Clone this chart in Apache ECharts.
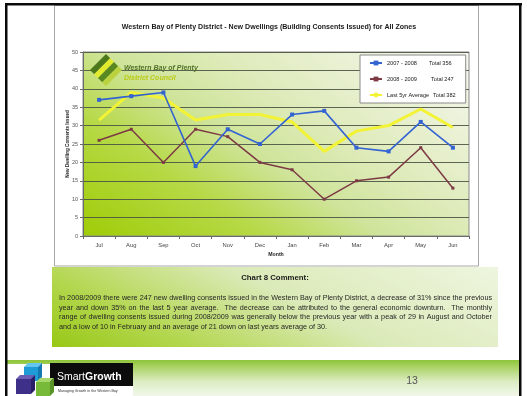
<!DOCTYPE html>
<html>
<head>
<meta charset="utf-8">
<script src="https://cdn.jsdelivr.net/npm/echarts@6/dist/echarts.min.js"></script>
<style>
  html, body { margin: 0; padding: 0; background: #ffffff; }
  #c { width: 527px; height: 396px; }
</style>
</head>
<body>
<div id="c"></div>
<script>
// Monthly new dwelling consents, July to June
const months = ['Jul', 'Aug', 'Sep', 'Oct', 'Nov', 'Dec', 'Jan', 'Feb', 'Mar', 'Apr', 'May', 'Jun'];
const consents2007 = [37, 38, 39, 19, 29, 25, 33, 34, 24, 23, 31, 24];
const consents2008 = [26, 29, 20, 29, 27, 20, 18, 10, 15, 16, 24, 13];
const fiveYearAvg = [31.5, 39, 37.5, 31.5, 33, 33, 31, 23, 28.5, 30, 34.5, 29.5];
const seriesNames = ['2007 - 2008', '2008 - 2009', 'Last 5yr Average'];
const yMin = 0, yMax = 50, yStep = 5;

const chartTitle = 'Western Bay of Plenty District - New Dwellings (Building Consents Issued) for All Zones';
const commentHeading = 'Chart 8 Comment:';
const commentLines = [
  'In 2008/2009 there were 247 new dwelling consents issued in the Western Bay of Plenty District, a decrease of 31% since the previous',
  'year and down 35% on the last 5 year average.  The decrease can be attributed to the general economic downturn.  The monthly',
  'range of dwelling consents issued during 2008/2009 was generally below the previous year with a peak of 29 in August and October',
  'and a low of 10 in February and an average of 21 down on last years average of 30.'
];

const FONT = '"Liberation Sans", Arial, sans-serif';
const total = arr => Math.round(arr.reduce((s, v) => s + v, 0));
const totals = [consents2007, consents2008, fiveYearAvg].map(total);

// text measuring for the justified comment paragraph
const mctx = document.createElement('canvas').getContext('2d');
function measure(str, size, weight) {
  mctx.font = (weight || 'normal') + ' ' + size + 'px "Liberation Sans"';
  return mctx.measureText(str).width;
}

const G = echarts.graphic;
const graphics = [];

// slide frame
graphics.push({ type: 'rect', z: -20, shape: { x: 5, y: 3, width: 517, height: 393 }, style: { fill: '#ffffff' } });
graphics.push({ type: 'rect', z: 30, shape: { x: 5, y: 3, width: 517, height: 2.5 }, style: { fill: '#0a0a0a' } });
graphics.push({ type: 'rect', z: 30, shape: { x: 5, y: 3, width: 2.5, height: 393 }, style: { fill: '#0a0a0a' } });
graphics.push({ type: 'rect', z: 30, shape: { x: 519, y: 3, width: 2.5, height: 393 }, style: { fill: '#0a0a0a' } });

// chart frame
graphics.push({ type: 'rect', z: -10, shape: { x: 54.5, y: 5.5, width: 424, height: 260.5 }, style: { fill: '#ffffff', stroke: '#a8a8a8', lineWidth: 1 } });
graphics.push({ type: 'text', z: 5, x: 269, y: 27, style: { text: chartTitle, font: 'bold 7.05px ' + FONT, fill: '#1a1a1a', textAlign: 'center', textVerticalAlign: 'middle' } });

// council logo in the plot corner
(function () {
  const L = [90, 70], T = [106, 54], B = [106, 86];
  const pt = (a, b) => [L[0] + a * (T[0] - L[0]) + b * (B[0] - L[0]), L[1] + a * (T[1] - L[1]) + b * (B[1] - L[1])];
  const bands = [[0, 0.26, '#4d781c'], [0.26, 0.5, '#e2ea2e'], [0.5, 0.76, '#5a8820'], [0.76, 1, '#b9d23e']];
  bands.forEach(([b0, b1, col]) => {
    graphics.push({ type: 'polygon', z: 1, shape: { points: [pt(0, b0), pt(1, b0), pt(1, b1), pt(0, b1)] }, style: { fill: col } });
  });
  graphics.push({ type: 'text', z: 1, x: 124, y: 68, style: { text: 'Western Bay of Plenty', font: 'italic bold 7px ' + FONT, fill: '#52722a', textVerticalAlign: 'middle' } });
  graphics.push({ type: 'text', z: 1, x: 124, y: 78, style: { text: 'District Council', font: 'italic bold 7px ' + FONT, fill: '#bccb18', textVerticalAlign: 'middle' } });
})();

// comment panel
graphics.push({
  type: 'rect', z: -5, shape: { x: 52, y: 267, width: 446, height: 80 },
  style: { fill: new G.LinearGradient(52, 347, 200, 50, [
    { offset: 0, color: '#98c816' }, { offset: 0.18, color: '#b2d64c' },
    { offset: 0.45, color: '#dbeab8' }, { offset: 1, color: '#f8fbf3' }], true) }
});
graphics.push({ type: 'text', z: 5, x: 275, y: 278, style: { text: commentHeading, font: 'bold 7.8px ' + FONT, fill: '#1a1a1a', textAlign: 'center', textVerticalAlign: 'middle' } });

(function () {
  const left = 59, width = 433, top = 298, lead = 9.6;
  const base = Math.max(...commentLines.slice(0, 3).map(l => measure(l, 10)));
  const size = +(10 * width / base * 0.995).toFixed(2);
  commentLines.forEach((line, i) => {
    const y = top + i * lead;
    const justify = i < commentLines.length - 1;
    const words = line.split(' ');
    const extra = justify ? (width - measure(line, size)) / (words.length - 1) : 0;
    words.forEach((w, k) => {
      if (!w) return;
      const prefix = words.slice(0, k).join(' ') + (k > 0 ? ' ' : '');
      const x = left + measure(prefix, size) + k * extra;
      graphics.push({ type: 'text', z: 5, x: x, y: y, style: { text: w, font: size + 'px ' + FONT, fill: '#262626', textVerticalAlign: 'middle' } });
    });
  });
})();

// footer band
graphics.push({
  type: 'rect', z: -5, shape: { x: 7, y: 360, width: 512, height: 36 },
  style: { fill: new G.LinearGradient(0, 0, 0, 1, [
    { offset: 0, color: '#8cc43a' }, { offset: 0.15, color: '#a4d05a' },
    { offset: 0.6, color: '#dcecc3' }, { offset: 1, color: '#f2f8ea' }]) }
});

// SmartGrowth badge
function cube(x, y, s, d, front, top, side) {
  graphics.push({ type: 'polygon', z: 6, shape: { points: [[x, y + d], [x + d, y], [x + s + d, y], [x + s, y + d]] }, style: { fill: top } });
  graphics.push({ type: 'polygon', z: 6, shape: { points: [[x + s, y + d], [x + s + d, y], [x + s + d, y + s], [x + s, y + s + d]] }, style: { fill: side } });
  graphics.push({ type: 'rect', z: 6, shape: { x: x, y: y + d, width: s, height: s }, style: { fill: front } });
}
graphics.push({ type: 'rect', z: 5, shape: { x: 7, y: 364, width: 126, height: 32 }, style: { fill: '#ffffff' } });
graphics.push({ type: 'rect', z: 5, shape: { x: 50, y: 363, width: 83, height: 23 }, style: { fill: '#0c0c0c' } });
cube(24, 363, 14, 4, '#1f9bd8', '#62c6f0', '#1479b0');
cube(16, 375, 15, 4, '#3e3088', '#6c5db4', '#2a1f66');
cube(36, 378, 14, 4, '#77ba3a', '#a8d86c', '#5a9428');
graphics.push({
  type: 'text', z: 7, x: 57, y: 377,
  style: {
    text: '{a|Smart}{b|Growth}', textVerticalAlign: 'middle',
    rich: {
      a: { fontSize: 10.5, fill: '#ffffff', fontFamily: FONT },
      b: { fontSize: 10.5, fill: '#ffffff', fontWeight: 'bold', fontFamily: FONT }
    }
  }
});
graphics.push({ type: 'text', z: 7, x: 58, y: 391, style: { text: 'Managing Growth in the Western Bay', font: '3.6px ' + FONT, fill: '#333333', textVerticalAlign: 'middle' } });
graphics.push({ type: 'text', z: 7, x: 412, y: 381, style: { text: '13', font: '10.5px ' + FONT, fill: '#555555', textAlign: 'center', textVerticalAlign: 'middle' } });

const nameWidths = [42, 44, 46];
const legendRich = { t: { fontSize: 5.6, color: '#222', fontFamily: FONT } };
nameWidths.forEach((w, i) => { legendRich['n' + i] = { width: w, fontSize: 5.6, color: '#222', fontFamily: FONT }; });

const chart = echarts.init(document.getElementById('c'), null, { renderer: 'canvas' });
chart.setOption({
  animation: false,
  textStyle: { fontFamily: FONT },
  grid: {
    left: 83, top: 52, width: 386, height: 184, show: true,
    backgroundColor: new G.LinearGradient(83, 236, 287, -70, [
      { offset: 0, color: '#9fcc06' }, { offset: 0.27, color: '#b6d946' },
      { offset: 0.45, color: '#cfe49a' }, { offset: 0.62, color: '#dfebbb' },
      { offset: 1, color: '#f6f8f2' }], true),
    borderColor: '#8a8a8a', borderWidth: 1
  },
  xAxis: {
    type: 'category', data: months, boundaryGap: true,
    axisLine: { lineStyle: { color: '#6a6a6a' } },
    axisTick: { show: true, length: 3, lineStyle: { color: '#6a6a6a' } },
    axisLabel: { fontSize: 5.8, color: '#444', margin: 6 },
    name: 'Month', nameLocation: 'middle', nameGap: 16, nameMoveOverlap: false,
    nameTextStyle: { fontSize: 5.2, fontWeight: 'bold', color: '#1a1a1a' }
  },
  yAxis: {
    type: 'value', min: yMin, max: yMax, interval: yStep,
    axisLine: { show: true, lineStyle: { color: '#6a6a6a' } },
    axisTick: { show: true, length: 3, lineStyle: { color: '#6a6a6a' } },
    axisLabel: { fontSize: 5.5, color: '#555', margin: 5 },
    splitLine: { lineStyle: { color: '#4c5444', width: 0.9 } },
    name: 'New Dwelling Consents Issued', nameLocation: 'middle', nameGap: 13, nameRotate: 90, nameMoveOverlap: false,
    nameTextStyle: { fontSize: 4.6, fontWeight: 'bold', color: '#1a1a1a' }
  },
  legend: {
    data: seriesNames, orient: 'vertical', left: 360, top: 55,
    padding: [5, 10, 5, 9], itemGap: 10, itemWidth: 12, itemHeight: 6,
    backgroundColor: '#ffffff', borderColor: '#8a8a8a', borderWidth: 1,
    formatter: name => { const i = seriesNames.indexOf(name); return '{n' + i + '|' + name + '}{t|Total ' + totals[i] + '}'; },
    textStyle: { fontSize: 5.6, color: '#222', rich: legendRich }
  },
  series: [
    {
      name: seriesNames[2], type: 'line', data: fiveYearAvg, z: 2,
      symbol: 'none', lineStyle: { color: '#f3f335', width: 3 }, itemStyle: { color: '#f3f335' }
    },
    {
      name: seriesNames[1], type: 'line', data: consents2008, z: 3,
      symbol: 'rect', symbolSize: 3, lineStyle: { color: '#7d3a45', width: 1.5 }, itemStyle: { color: '#7d3a45' }
    },
    {
      name: seriesNames[0], type: 'line', data: consents2007, z: 4,
      symbol: 'rect', symbolSize: 4, lineStyle: { color: '#3363d2', width: 1.6 }, itemStyle: { color: '#3363d2' }
    }
  ],
  graphic: { elements: graphics }
});
</script>
</body>
</html>
